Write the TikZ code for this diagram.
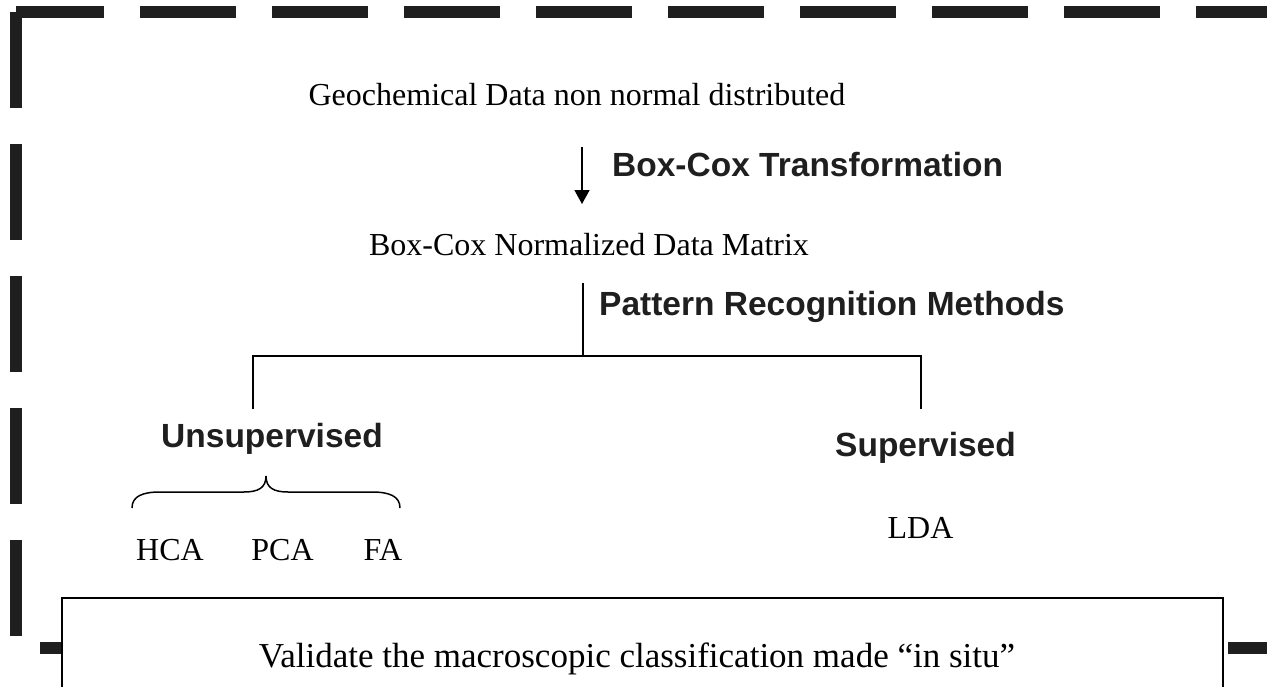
\documentclass[tikz,border=0pt]{standalone}
\usepackage{fontspec}
\setmainfont{Liberation Serif}
\newfontfamily\arialfont{Liberation Sans}
\usetikzlibrary{arrows.meta}
\begin{document}
\begin{tikzpicture}[x=1pt,y=-1pt,
  serif/.style={font=\fontsize{32}{38}\selectfont, inner sep=0pt, anchor=base},
  bsans/.style={font=\arialfont\bfseries\fontsize{33.5}{40}\selectfont, inner sep=0pt, anchor=base, text=black!88},
  frameline/.style={line width=12pt, draw=black!88, dash pattern=on 96pt off 36pt},
  conn/.style={line width=1.6pt, draw=black},
  arrowconn/.style={conn, -{Triangle[length=14pt,width=15pt]}}]
\useasboundingbox (0,0) rectangle (1267,686);
\clip (0,0) rectangle (1267,686);
% dashed frame
\draw[frameline, dash phase=8pt] (16,12) -- (1320,12);
\draw[frameline] (16,12) -- (16,648);
\draw[frameline, dash phase=108pt] (16,648) -- (1320,648);
% bottom box
\node[draw=black, line width=1.5pt, fill=white, inner sep=0pt, anchor=north west,
      minimum width=1161pt, minimum height=120pt] (vbox) at (61,597) {};
\node[serif, font=\fontsize{35}{42}\selectfont] (val) at (637,667) {Validate the macroscopic classification made “in situ”};
% texts
\node[serif] (geo) at (577,105) {Geochemical Data non normal distributed};
\node[bsans, anchor=base west] (bct) at (612,176) {Box-Cox Transformation};
\node[serif] (bcn) at (589,255) {Box-Cox Normalized Data Matrix};
\node[bsans, anchor=base west] (prm) at (599,315) {Pattern Recognition Methods};
\node[bsans] (uns) at (272,447) {Unsupervised};
\node[bsans] (sup) at (925.5,456) {Supervised};
\node[serif] (hca) at (170,560) {HCA};
\node[serif] (pca) at (282.5,560) {PCA};
\node[serif] (fa) at (383,560) {FA};
\node[serif] (lda) at (920.5,538) {LDA};
% connectors
\coordinate (a0) at (582,147);
\coordinate (a1) at (582,204);
\draw[arrowconn] (a0) -- (a1);
\coordinate (p0) at (583,283);
\coordinate (p1) at (583,356);
\coordinate (l0) at (253,356);
\coordinate (l1) at (253,409);
\coordinate (r0) at (921,356);
\coordinate (r1) at (921,409);
\draw[conn] (p0) -- (p1);
\draw[conn] (l1) -- (l0) -- (r0) -- (r1);
% brace
\draw[line width=1.5pt] (132,508) .. controls (132,496) and (143,492) .. (160,492)
  -- (244,492) .. controls (258,492) and (266,488) .. (266,476)
  .. controls (266,488) and (274,492) .. (288,492)
  -- (372,492) .. controls (389,492) and (400,496) .. (400,508);
\end{tikzpicture}
\end{document}
